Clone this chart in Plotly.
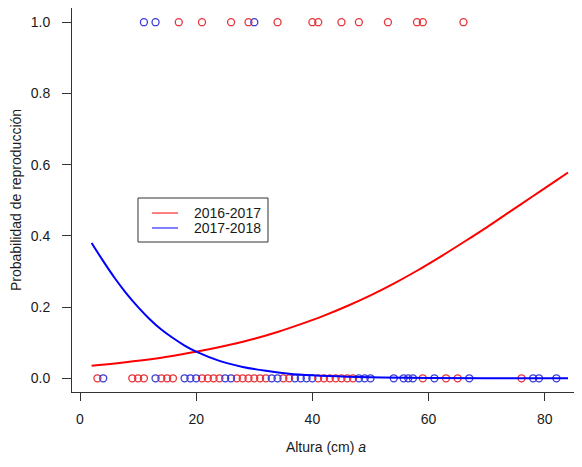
import plotly.graph_objects as go

# Observations (altura in cm) for each period, at reproduction = 1 and = 0
red_x1 = [17, 21, 26, 29, 34, 40, 41, 45, 48, 53, 58, 59, 66]
blue_x1 = [11, 13, 30]
red_x0 = [3, 9, 10, 11, 14, 15, 16, 21, 22, 23, 24, 27, 28, 29, 30, 31, 32,
          35, 36, 41, 42, 43, 44, 45, 46, 47, 59, 63, 65, 76]
blue_x0 = [4, 13, 18, 19, 20, 25, 26, 33, 34, 37, 38, 39, 40, 48, 49, 50,
           54, 55.7, 56.5, 57.3, 61, 67, 78, 79, 82]

# Fitted curves
red_curve_x = [2, 6, 10, 14, 18, 22, 26, 30, 34, 38, 42, 46, 50, 54, 58, 62,
               66, 70, 74, 78, 82, 84]
red_curve_y = [0.035, 0.0415, 0.049, 0.058, 0.069, 0.081, 0.095, 0.111, 0.130,
               0.152, 0.176, 0.203, 0.233, 0.266, 0.302, 0.341, 0.382, 0.424,
               0.468, 0.512, 0.556, 0.578]
blue_curve_x = [2, 4, 6, 8, 10, 12, 14, 16, 18, 20, 24, 28, 32, 36, 40, 46,
                52, 60, 70, 84]
blue_curve_y = [0.380, 0.329, 0.281, 0.238, 0.200, 0.166, 0.137, 0.113, 0.092,
                0.075, 0.049, 0.032, 0.021, 0.013, 0.0085, 0.0044, 0.0022,
                0.0009, 0.0003, 0.0001]

series_names = ["2016-2017", "2017-2018"]
x_ticks = [0, 20, 40, 60, 80]
y_ticks = [0.0, 0.2, 0.4, 0.6, 0.8, 1.0]
y_tick_labels = ["0.0", "0.2", "0.4", "0.6", "0.8", "1.0"]

RED = "#ff0000"
BLUE = "#0000ff"
RED_PT = "#e8343a"
BLUE_PT = "#3b3bd6"
AXIS = "#333333"

fig = go.Figure()

marker_red = dict(symbol="circle-open", size=7, color=RED_PT, line=dict(width=1.3, color=RED_PT))
marker_blue = dict(symbol="circle-open", size=7, color=BLUE_PT, line=dict(width=1.3, color=BLUE_PT))

fig.add_trace(go.Scatter(x=red_x0 + red_x1, y=[0] * len(red_x0) + [1] * len(red_x1),
                         mode="markers", marker=marker_red, name=series_names[0],
                         showlegend=False))
fig.add_trace(go.Scatter(x=blue_x0 + blue_x1, y=[0] * len(blue_x0) + [1] * len(blue_x1),
                         mode="markers", marker=marker_blue, name=series_names[1],
                         showlegend=False))

fig.add_trace(go.Scatter(x=red_curve_x, y=red_curve_y, mode="lines", name=series_names[0],
                         line=dict(color=RED, width=2, shape="spline"), showlegend=False))
fig.add_trace(go.Scatter(x=blue_curve_x, y=blue_curve_y, mode="lines", name=series_names[1],
                         line=dict(color=BLUE, width=2, shape="spline"), showlegend=False))

font_family = "Liberation Sans, Arial, Helvetica, sans-serif"

# Legend box drawn in paper coordinates (R-style legend)
shapes = [
    dict(type="rect", xref="paper", yref="paper", x0=0.1299, x1=0.3858, y0=0.3906, y1=0.5052,
         line=dict(color=AXIS, width=1), fillcolor="white", layer="above"),
    dict(type="line", xref="paper", yref="paper", x0=0.1575, x1=0.2087, y0=0.4661, y1=0.4661,
         line=dict(color=RED, width=1), layer="above"),
    dict(type="line", xref="paper", yref="paper", x0=0.1575, x1=0.2087, y0=0.4271, y1=0.4271,
         line=dict(color=BLUE, width=1), layer="above"),
]
annotations = [
    dict(xref="paper", yref="paper", x=0.2362, y=0.4661, xanchor="left", yanchor="middle",
         text=series_names[0], showarrow=False, font=dict(size=14, color="#1a1a1a")),
    dict(xref="paper", yref="paper", x=0.2362, y=0.4271, xanchor="left", yanchor="middle",
         text=series_names[1], showarrow=False, font=dict(size=14, color="#1a1a1a")),
]

# page body adds an 8px offset; margins compensate for it
fig.update_layout(
    width=582, height=467,
    margin=dict(l=64, r=10, t=0, b=83),
    plot_bgcolor="white", paper_bgcolor="white",
    font=dict(family=font_family, size=14, color="#1a1a1a"),
    showlegend=False,
    shapes=shapes,
    annotations=annotations,
    xaxis=dict(range=[-1.377, 86.06], tickvals=x_ticks, showgrid=False, zeroline=False,
               automargin=False,
               showline=True, linecolor=AXIS, linewidth=1,
               ticks="outside", ticklen=8, tickcolor=AXIS, ticklabelstandoff=6,
               title=dict(text="Altura (cm) <i>a</i>", standoff=16, font=dict(size=14))),
    yaxis=dict(range=[-0.0385, 1.0399], tickvals=y_ticks, ticktext=y_tick_labels,
               showgrid=False, zeroline=False, automargin=False,
               showline=True, linecolor=AXIS, linewidth=1,
               ticks="outside", ticklen=9, tickcolor=AXIS, ticklabelstandoff=9,
               title=dict(text="Probabilidad de reproducción", standoff=12, font=dict(size=14))),
)

fig.write_html("out.html")
